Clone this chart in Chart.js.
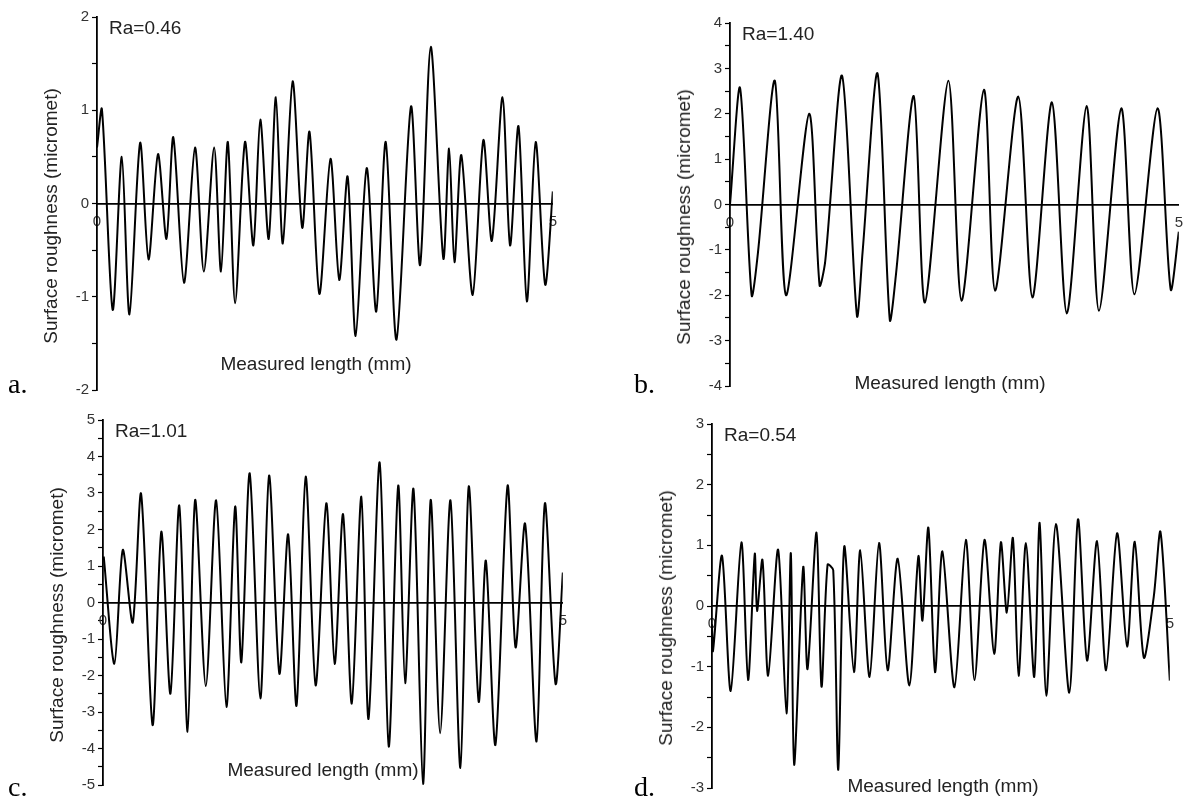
<!DOCTYPE html>
<html>
<head>
<meta charset="utf-8">
<script src="https://cdn.jsdelivr.net/npm/chart.js"></script>
<style>
body{margin:0;background:#fff;width:1192px;height:803px;overflow:hidden;position:relative;font-family:"Liberation Sans",Arial,sans-serif}
canvas{position:absolute}
.t{position:absolute;font-size:19px;line-height:20px;color:#222;white-space:nowrap}
.ytitle{transform:translate(-50%,-50%) rotate(-90deg)}
.xtitle{transform:translate(-50%,-50%)}
.ra{transform:translateY(-50%)}
.tag{position:absolute;font-family:"Liberation Serif","Times New Roman",serif;font-size:28px;line-height:28px;color:#000}
</style>
</head>
<body>
<canvas id="ca"></canvas>
<canvas id="cb"></canvas>
<canvas id="cc"></canvas>
<canvas id="cd"></canvas>
<script>
// panel a, Ra=0.46
var xA = [0, 0.054, 0.172, 0.272, 0.356, 0.473, 0.565, 0.669, 0.762, 0.837, 0.954, 1.075, 1.172, 1.285, 1.36, 1.435, 1.515, 1.623, 1.715, 1.791, 1.883, 1.962, 2.038, 2.146, 2.251, 2.331, 2.439, 2.561, 2.657, 2.749, 2.837, 2.958, 3.063, 3.167, 3.285, 3.444, 3.544, 3.661, 3.799, 3.862, 3.921, 3.996, 4.121, 4.238, 4.331, 4.448, 4.531, 4.623, 4.715, 4.812, 4.916, 5.0]
var yA = [0.6, 1.01, -1.14, 0.5, -1.19, 0.65, -0.6, 0.53, -0.38, 0.71, -0.85, 0.6, -0.73, 0.6, -0.73, 0.66, -1.07, 0.66, -0.45, 0.9, -0.38, 1.14, -0.43, 1.31, -0.26, 0.77, -0.97, 0.48, -0.82, 0.29, -1.42, 0.38, -1.16, 0.66, -1.46, 1.04, -0.66, 1.68, -0.59, 0.59, -0.63, 0.52, -0.98, 0.68, -0.4, 1.14, -0.45, 0.83, -1.05, 0.66, -0.87, 0.13]

// panel b, Ra=1.40
var xB = [0, 0.112, 0.241, 0.312, 0.499, 0.624, 0.882, 0.998, 1.061, 1.248, 1.414, 1.477, 1.643, 1.78, 1.851, 2.047, 2.171, 2.433, 2.579, 2.829, 2.953, 3.211, 3.369, 3.586, 3.752, 3.973, 4.11, 4.359, 4.505, 4.763, 4.909, 5.0]
var yB = [0, 2.57, -2.0, -1.05, 2.73, -2.0, 2.0, -1.78, -1.25, 2.84, -2.45, -1.05, 2.89, -2.54, -1.5, 2.39, -2.16, 2.73, -2.12, 2.53, -1.9, 2.38, -2.05, 2.25, -2.4, 2.17, -2.34, 2.12, -1.98, 2.12, -1.87, -0.6]

// panel c, Ra=1.01
var xC = [0.008, 0.124, 0.215, 0.323, 0.414, 0.539, 0.634, 0.733, 0.829, 0.92, 1.002, 1.118, 1.23, 1.342, 1.437, 1.504, 1.595, 1.711, 1.806, 1.918, 2.013, 2.104, 2.204, 2.312, 2.428, 2.519, 2.61, 2.705, 2.809, 2.887, 3.008, 3.107, 3.21, 3.285, 3.376, 3.48, 3.563, 3.666, 3.778, 3.886, 3.977, 4.085, 4.163, 4.267, 4.399, 4.486, 4.59, 4.714, 4.805, 4.921, 5.0]
var yC = [1.26, -1.68, 1.44, -0.55, 2.98, -3.36, 1.94, -2.5, 2.66, -3.54, 2.81, -2.29, 2.8, -2.86, 2.63, -1.64, 3.54, -2.63, 3.48, -1.95, 1.87, -2.83, 3.45, -2.27, 2.72, -1.68, 2.42, -2.77, 2.9, -3.19, 3.84, -3.95, 3.2, -2.21, 3.11, -4.97, 2.81, -3.58, 2.8, -4.53, 3.18, -2.72, 1.15, -3.9, 3.2, -1.23, 2.16, -3.81, 2.72, -2.23, 0.82]

// panel d, Ra=0.54
var xD = [0, 0.011, 0.109, 0.204, 0.321, 0.394, 0.467, 0.492, 0.551, 0.613, 0.722, 0.813, 0.861, 0.897, 0.996, 1.043, 1.141, 1.196, 1.262, 1.324, 1.379, 1.444, 1.55, 1.619, 1.721, 1.824, 1.918, 2.028, 2.155, 2.254, 2.298, 2.363, 2.436, 2.516, 2.648, 2.772, 2.867, 2.976, 3.082, 3.155, 3.22, 3.286, 3.348, 3.428, 3.519, 3.578, 3.651, 3.756, 3.902, 3.997, 4.096, 4.205, 4.304, 4.424, 4.533, 4.617, 4.716, 4.825, 4.898, 5.0]
var yD = [-0.3, -0.74, 0.83, -1.4, 1.05, -1.22, 0.86, -0.08, 0.76, -1.15, 0.93, -1.77, 0.87, -2.62, 0.64, -1.04, 1.21, -1.33, 0.68, 0.59, -2.7, 0.98, -1.09, 0.92, -1.17, 1.04, -1.06, 0.78, -1.31, 0.82, -0.24, 1.29, -1.09, 0.9, -1.34, 1.09, -1.22, 1.09, -0.79, 1.05, -0.11, 1.12, -1.15, 1.04, -1.17, 1.37, -1.48, 1.35, -1.43, 1.43, -0.9, 1.07, -1.06, 1.2, -0.67, 1.06, -0.85, 0.16, 1.22, -1.23]

var raLabels = ['Ra=0.46', 'Ra=1.40', 'Ra=1.01', 'Ra=0.54']
var tags = ['a.', 'b.', 'c.', 'd.']
var yRanges = [[-2, 2], [-4, 4], [-5, 5], [-3, 3]]
var xTicks = [0, 5]
var xTitle = 'Measured length (mm)'
var yTitle = 'Surface roughness (micromet)'

// where each plot sits on the page
var boxes = [
  {id:'ca', axisX:97,  x5:554,  top:15,  bottom:392, padR:12, tagX:8,   tagY:370, xtX:316, xtY:364},
  {id:'cb', axisX:730, x5:1187, top:21,  bottom:388, padR:5,  tagX:634, tagY:370, xtX:950, xtY:383},
  {id:'cc', axisX:103, x5:564,  top:418, bottom:787, padR:12, tagX:8,   tagY:773, xtX:323, xtY:770},
  {id:'cd', axisX:712, x5:1171, top:422, bottom:790, padR:12, tagX:634, tagY:773, xtX:943, xtY:786}
]
var series = [[xA, yA], [xB, yB], [xC, yC], [xD, yD]]

Chart.defaults.font.family = '"Liberation Sans", Arial, sans-serif'
Chart.defaults.color = '#333'

function addText(cls, txt, x, y){
  let d = document.createElement('div')
  d.className = cls
  d.style.left = x + 'px'
  d.style.top = y + 'px'
  d.textContent = txt
  document.body.appendChild(d)
}

boxes.forEach((b, i) => {
  let cv = document.getElementById(b.id)
  let w = b.x5 - b.axisX + 70 + b.padR
  let h = b.bottom - b.top + 20
  cv.width = w; cv.height = h
  cv.style.left = (b.axisX - 70) + 'px'
  cv.style.top = (b.top - 10) + 'px'

  let xs = series[i][0], ys = series[i][1]
  new Chart(cv.getContext('2d'), {
    type: 'line',
    data: {
      datasets: [{
        data: xs.map((x, k) => ({x: x, y: ys[k]})),
        borderColor: '#000',
        borderWidth: 2,
        pointRadius: 0,
        tension: 0.28,
        fill: false
      }]
    },
    options: {
      responsive: false,
      animation: false,
      devicePixelRatio: 1,
      layout: {padding: {top: 10, bottom: 10, left: 0, right: b.padR}},
      plugins: {legend: {display: false}, tooltip: {enabled: false}},
      scales: {
        x: {
          type: 'linear',
          min: xTicks[0], max: xTicks[1],
          position: {y: 0},
          z: 1,
          grid: {display: false, drawTicks: false},
          border: {display: true, color: '#000', width: 1.8},
          ticks: {stepSize: 5, padding: 9, maxRotation: 0, font: {size: 15}, color: '#333'}
        },
        y: {
          min: yRanges[i][0], max: yRanges[i][1],
          grid: {drawOnChartArea: false, drawTicks: true, tickLength: 5, tickColor: '#000', tickWidth: 1.2},
          border: {display: true, color: '#000', width: 1.8},
          ticks: {
            stepSize: 0.5, autoSkip: false, padding: 3, font: {size: 15}, color: '#333',
            callback: v => Math.abs(v - Math.round(v)) < 1e-6 ? Math.round(v) : ''
          },
          afterFit: s => { s.width = 70 }
        }
      }
    }
  })

  let midY = (b.top + b.bottom) / 2
  addText('t ytitle', yTitle, b.axisX - 46, midY + 12)
  addText('t xtitle', xTitle, b.xtX, b.xtY)
  addText('t ra', raLabels[i], b.axisX + 12, b.top + 13)
  addText('tag', tags[i], b.tagX, b.tagY)
})
</script>
</body>
</html>
